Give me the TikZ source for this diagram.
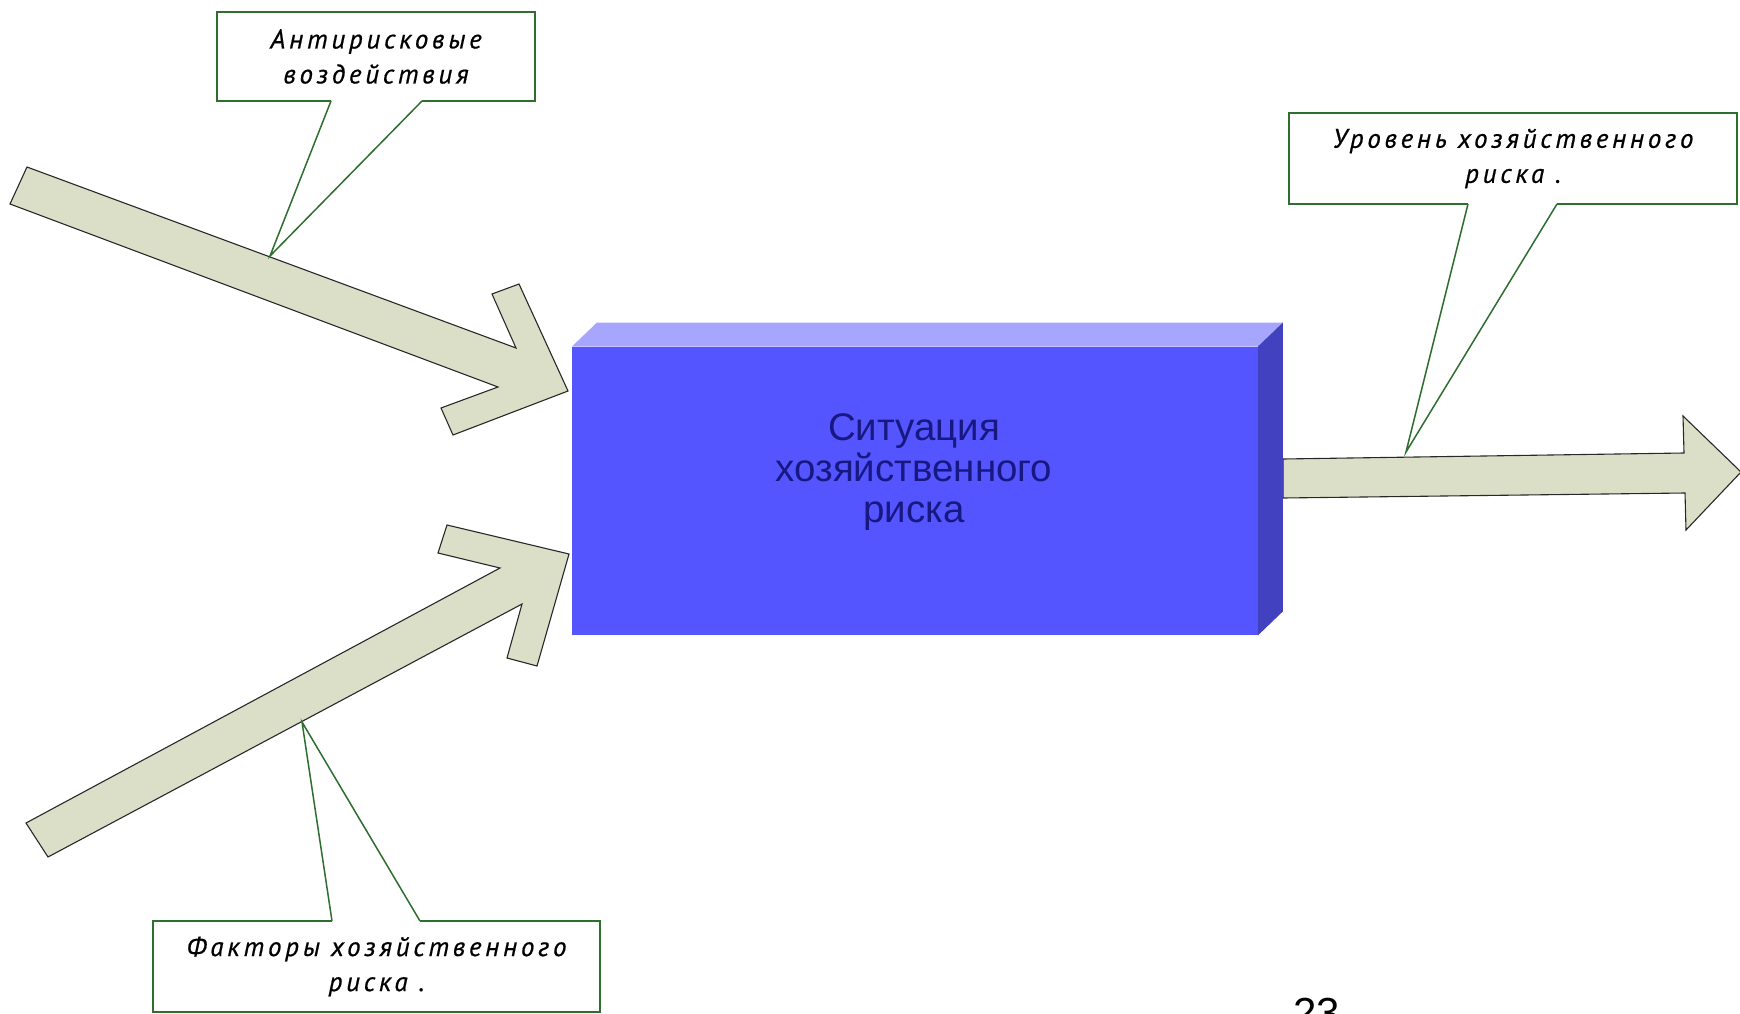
\documentclass[tikz,border=0pt]{standalone}
\usepackage{fontspec}
\usetikzlibrary{calc}
\setmainfont{Liberation Sans}
\newfontfamily\callfont[LetterSpace=14,FakeBold=0.6]{PT Sans}
\definecolor{arrowfill}{RGB}{220,223,200}
\definecolor{arrowline}{RGB}{40,40,40}
\definecolor{calloutgreen}{RGB}{46,110,46}
\definecolor{frontblue}{RGB}{85,85,255}
\definecolor{topblue}{RGB}{166,166,255}
\definecolor{sideblue}{RGB}{66,66,192}
\definecolor{textblue}{RGB}{24,24,130}
\tikzset{
  blockarrow/.style={fill=arrowfill, draw=arrowline, line width=1.1pt, line join=miter},
  callout/.style={draw=calloutgreen, line width=2pt, fill=white, inner sep=0pt,
    align=center, font=\callfont\itshape\fontsize{27}{35}\selectfont},
  pointerline/.style={draw=calloutgreen, line width=1.5pt, line join=miter},
  maintext/.style={text=textblue, align=center, inner sep=0pt,
    font=\fontsize{38.5}{41}\selectfont}
}
\begin{document}
\begin{tikzpicture}[x=1pt,y=-1pt]
\useasboundingbox (0,0) rectangle (1740,1014);
\clip (0,0) rectangle (1740,1014);
\fill[white] (0,0) rectangle (1740,1014);

% block arrows
\draw[blockarrow] (27,167) -- (516,348) -- (492,294) -- (519,284) -- (568,391)
  -- (453,435) -- (441,408) -- (498,387) -- (10,204) -- cycle;
\draw[blockarrow] (26,823) -- (500,568) -- (438,553) -- (447,525) -- (569,554)
  -- (537,666) -- (507,658) -- (522,604) -- (48,857) -- cycle;
\draw[blockarrow] (1283,459) -- (1684,453) -- (1683,416) -- (1741,472)
  -- (1686,530) -- (1685,493) -- (1283,498) -- cycle;

% main 3D box
\node[fill=frontblue, draw=none, minimum width=685.5pt, minimum height=288.5pt,
  inner sep=0pt, anchor=north west] (sit) at (572,346.5) {};
\fill[topblue] (sit.north west) -- ++(25,-24) -- ($(sit.north east)+(25,-24)$)
  -- (sit.north east) -- cycle;
\fill[sideblue] (sit.north east) -- ++(25,-24) -- ($(sit.south east)+(25,-24)$)
  -- (sit.south east) -- cycle;
\node[maintext] (sittext) at (914,472) {Ситуация\\хозяйственного\\риска};

% callouts
\node[callout, minimum width=318pt, minimum height=89pt] (anti) at (376,56.5)
  {Антирисковые\\воздействия};
\coordinate (antiA) at (331,101);
\coordinate (antiB) at (422,101);
\coordinate (antiT) at (270,256);
\fill[white] ($(antiA)+(1,-3)$) -- (antiA) -- (antiT) -- (antiB) -- ($(antiB)+(-1,-3)$) -- cycle;
\draw[pointerline] (antiA) -- (antiT) -- (antiB);

\node[callout, minimum width=448pt, minimum height=91pt] (level) at (1513,158.5)
  {Уровень хозяйственного\\риска .};
\coordinate (levA) at (1468,204);
\coordinate (levB) at (1557,204);
\coordinate (levT) at (1406,452);
\fill[white] ($(levA)+(1,-3)$) -- (levA) -- (levT) -- (levB) -- ($(levB)+(-1,-3)$) -- cycle;
\draw[pointerline] (levA) -- (levT) -- (levB);

\node[callout, minimum width=447pt, minimum height=91pt] (fact) at (376.5,966.5)
  {Факторы хозяйственного\\риска .};
\coordinate (facA) at (332,921);
\coordinate (facB) at (420,921);
\coordinate (facT) at (302,722);
\fill[white] ($(facA)+(1,3)$) -- (facA) -- (facT) -- (facB) -- ($(facB)+(-1,3)$) -- cycle;
\draw[pointerline] (facA) -- (facT) -- (facB);

% page number
\node[anchor=base west, inner sep=0pt, font=\fontsize{42}{42}\selectfont] (pagenum)
  at (1293,1027) {23};
\end{tikzpicture}
\end{document}
